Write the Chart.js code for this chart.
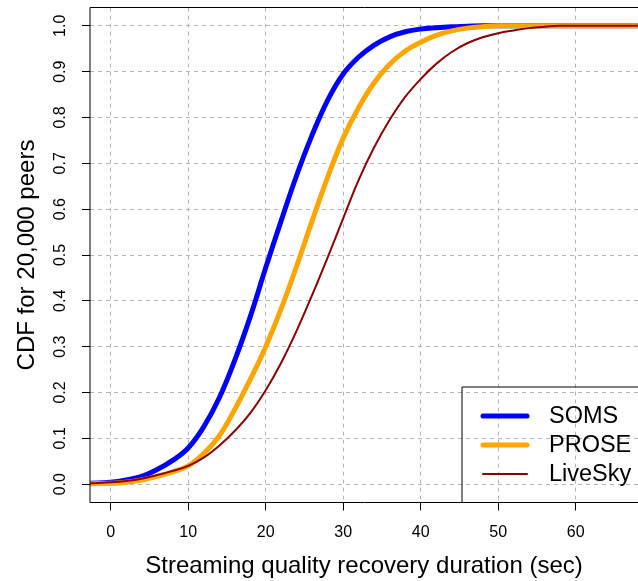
<!DOCTYPE html>
<html>
<head>
<meta charset="utf-8">
<script src="https://cdn.jsdelivr.net/npm/chart.js@4/dist/chart.umd.min.js"></script>
<style>
html,body{margin:0;padding:0;background:#fff;overflow:hidden;}
canvas{display:block;}
</style>
</head>
<body>
<canvas id="c" width="638" height="581"></canvas>
<script>
// ---- data ----
const durations = [-2.6,0,2,4,6,8,10,12,14,16,18,20,22,24,26,28,30,32,34,36,38,40,42,44,46,48,50,52,54,56,58,60,62,64,66,68];
const somsCdf = [0.002,0.004,0.009,0.017,0.032,0.052,0.079,0.125,0.188,0.27,0.365,0.472,0.575,0.674,0.762,0.838,0.895,0.932,0.958,0.976,0.987,0.993,0.996,0.998,0.999,1,1,1,1,1,1,1,1,1,1,1];
const proseCdf = [0.001,0.002,0.004,0.009,0.017,0.027,0.04,0.067,0.105,0.163,0.228,0.3,0.383,0.476,0.575,0.67,0.755,0.822,0.876,0.916,0.945,0.964,0.979,0.989,0.995,0.998,1,1,1,1,1,1,1,1,1,1];
const liveSkyCdf = [0.002,0.004,0.007,0.012,0.02,0.029,0.04,0.058,0.084,0.116,0.155,0.205,0.265,0.335,0.413,0.495,0.58,0.664,0.735,0.795,0.845,0.884,0.917,0.943,0.962,0.975,0.984,0.99,0.995,0.998,1,1,1,1,1,1];
const seriesNames = ["SOMS","PROSE","LiveSky"];
const xTickValues = [0,10,20,30,40,50,60];
const yTickValues = [0,0.1,0.2,0.3,0.4,0.5,0.6,0.7,0.8,0.9,1.0];

const FONT = "'Liberation Sans', Arial, Helvetica, sans-serif";
const colors = ["#0000FF","#FFA500","#8B0000"];
const widths = [5,5,2];
const seriesVals = [somsCdf, proseCdf, liveSkyCdf];

const datasets = seriesNames.map((name,i)=>({
  label: name,
  data: durations.map((x,j)=>({x:x, y:seriesVals[i][j]})),
  borderColor: colors[i],
  backgroundColor: colors[i],
  borderWidth: widths[i],
  pointRadius: 0,
  showLine: true,
  fill: false,
  tension: 0.4,
  order: 3 - i
}));

const framePlugin = {
  id: 'frame',
  afterDraw(chart){
    const {ctx, chartArea:a, scales} = chart;
    ctx.save();
    ctx.strokeStyle = '#000';
    ctx.lineWidth = 1;
    ctx.beginPath();
    ctx.moveTo(a.right+2, a.top);
    ctx.lineTo(a.left, a.top);
    ctx.lineTo(a.left, a.bottom);
    ctx.lineTo(a.right+2, a.bottom);
    ctx.stroke();
    // rotated y tick labels
    const ys = scales.y;
    ctx.fillStyle = '#000';
    ctx.font = '16px ' + FONT;
    ctx.textAlign = 'center';
    ctx.textBaseline = 'middle';
    yTickValues.forEach(v=>{
      const py = ys.getPixelForValue(v);
      ctx.save();
      ctx.translate(61, py);
      ctx.rotate(-Math.PI/2);
      ctx.fillText(v.toFixed(1), 0, 0);
      ctx.restore();
    });
    // legend
    const lx = 462, ly = 387;
    ctx.beginPath();
    ctx.moveTo(chart.width+5, ly);
    ctx.lineTo(lx, ly);
    ctx.lineTo(lx, a.bottom);
    ctx.stroke();
    ctx.font = '23.5px ' + FONT;
    ctx.textAlign = 'left';
    chart.data.datasets.forEach((ds,i)=>{
      const yy = 416 + i*29;
      ctx.strokeStyle = ds.borderColor;
      ctx.lineWidth = ds.borderWidth;
      ctx.lineCap = 'round';
      ctx.beginPath();
      ctx.moveTo(483, yy);
      ctx.lineTo(527, yy);
      ctx.stroke();
      ctx.fillStyle = '#000';
      ctx.fillText(ds.label, 549, yy+1);
    });
    ctx.restore();
  }
};

new Chart(document.getElementById('c'), {
  type: 'scatter',
  data: { datasets },
  options: {
    responsive: false,
    animation: false,
    devicePixelRatio: 1,
    layout: { padding: { top: 7.5, left: 0, right: 0, bottom: 0 } },
    plugins: { legend: { display: false }, tooltip: { enabled: false } },
    scales: {
      x: {
        type: 'linear',
        min: -2.67,
        max: 68.04,
        afterBuildTicks: s => { s.ticks = xTickValues.map(v=>({value:v})); },
        afterFit: s => { s.height = 78.5; },
        grid: { color: '#b4b4b4', lineWidth: 1, tickColor: '#000', tickLength: 8, tickWidth: 1, tickBorderDash: [] },
        border: { display: false, dash: [4,4] },
        ticks: { color: '#000', font: { family: FONT, size: 16 }, padding: 12, maxRotation: 0, autoSkip: false,
                 callback: v => String(v) },
        title: { display: true, text: 'Streaming quality recovery duration (sec)', color: '#000',
                 font: { family: FONT, size: 24 }, padding: { top: 0, bottom: 0 } }
      },
      y: {
        type: 'linear',
        min: -0.04,
        max: 1.04,
        afterBuildTicks: s => { s.ticks = yTickValues.map(v=>({value:v})); },
        afterFit: s => { s.width = 90; },
        grid: { color: '#b4b4b4', lineWidth: 1, tickColor: '#000', tickLength: 8, tickWidth: 1, tickBorderDash: [] },
        border: { display: false, dash: [4,4] },
        ticks: { display: false },
        title: { display: true, text: 'CDF for 20,000 peers', color: '#000',
                 font: { family: FONT, size: 24 }, padding: { top: 12.5, bottom: 0 } }
      }
    }
  },
  plugins: [framePlugin]
});
</script>
</body>
</html>
